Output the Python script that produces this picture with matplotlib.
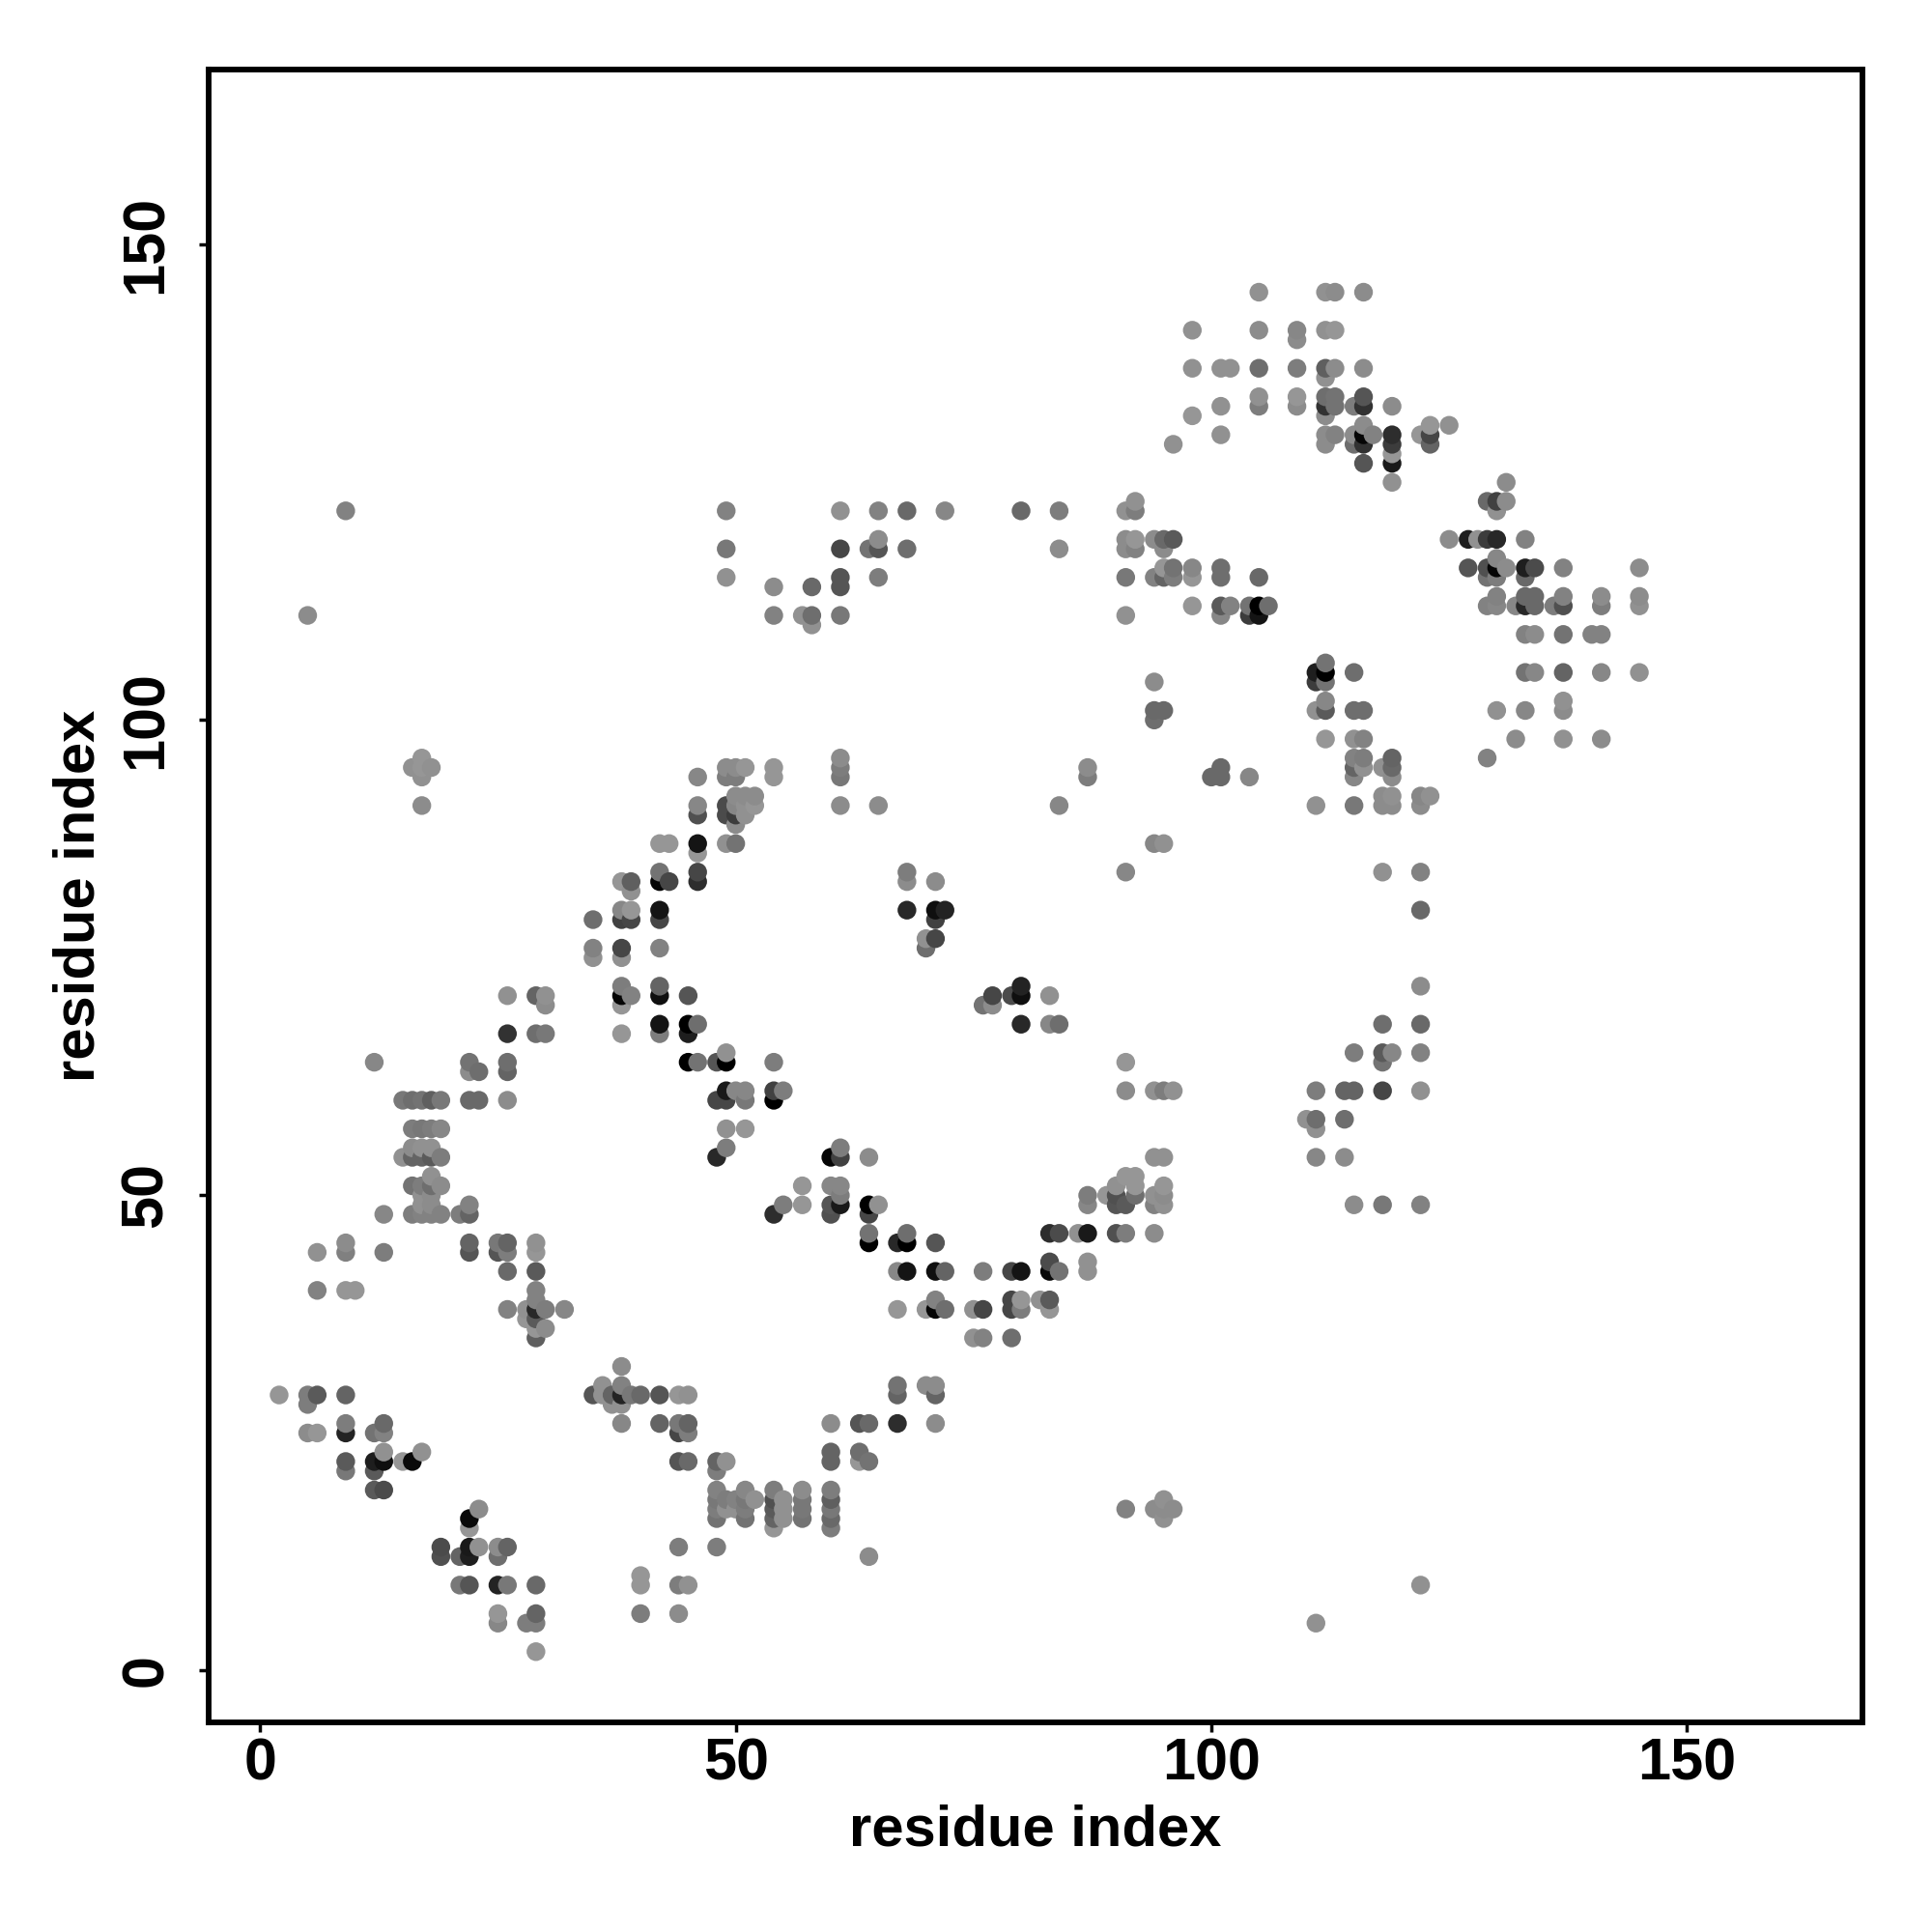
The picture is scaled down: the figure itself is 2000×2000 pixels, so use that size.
import numpy as np
import matplotlib
matplotlib.use("Agg")
import matplotlib.pyplot as plt

plt.rcParams['font.family'] = ['Liberation Sans', 'DejaVu Sans']

# (residue i, residue j, grey level)
contacts_bottom = [
(2,29,150),(5,29,125),(6,29,90),(9,29,100),(5,28,125),(9,26,125),(13,26,105),(5,25,140),(6,25,150),(9,25,35),
(12,25,115),(13,25,130),(13,23,145),(17,23,145),(9,22,90),(12,22,30),(13,22,15),(15,22,150),(16,22,10),
(9,21,120),(12,21,90),(12,19,90),(13,19,75),(23,17,140),(22,16,10),(22,15,150),
(19,13,75),(22,13,25),(23,13,145),(25,13,140),(26,13,100),(19,12,80),(21,12,100),(22,12,30),(25,12,110),
(21,9,120),(22,9,85),(25,9,35),(26,9,120),(29,9,105),(25,6,150),(29,6,100),(25,5,135),(28,5,125),(29,5,125),(29,2,150),
(40,10,150),(40,9,150),(44,13,125),(44,9,125),(45,9,145),(40,6,125),(44,6,140),
(38,32,140),(36,30,145),(38,30,130),(35,29,85),(36,29,145),(37,29,100),(38,29,35),(39,29,120),(40,29,105),
(42,29,85),(44,29,150),(45,29,145),(37,28,145),(38,28,145),(38,26,135),(42,26,100),(44,26,120),(45,26,100),
(44,25,70),(45,25,125),(44,22,85),(45,22,105),(48,22,100),(49,22,145),(60,22,100),(63,22,150),(64,22,115),
(48,21,125),(60,23,100),(63,23,110),(60,26,140),(63,26,85),(64,26,105),(67,26,45),(71,26,140),
(67,30,115),(70,30,140),(71,30,140),(67,29,100),(71,29,100),
(48,19,130),(51,19,135),(54,19,125),(57,19,140),(60,19,125),(48,18,120),(49,18,125),(50,18,130),(51,18,120),
(52,18,145),(54,18,80),(55,18,145),(57,18,120),(60,18,95),(48,17,125),(49,17,145),(50,17,145),(51,17,125),
(54,17,90),(55,17,145),(57,17,120),(60,17,120),(48,16,115),(51,16,115),(54,16,100),(55,16,145),(57,16,115),
(60,16,105),(54,15,150),(60,15,125),(48,13,125),(64,12,140),
(91,17,130),(94,17,140),(95,18,145),(95,17,140),(95,16,145),(96,17,140),(111,5,145),(122,9,145),
]

contacts_left = [
(13,48,135),(16,48,125),(17,48,130),(18,48,130),(19,48,130),(21,48,125),(22,48,100),(6,44,145),(9,45,140),(9,44,128),
(13,44,125),(22,45,100),(22,44,85),(25,45,120),(25,44,85),(26,45,100),(26,44,125),(29,45,145),(29,44,150),
(26,42,105),(29,42,90),(6,40,130),(9,40,150),(10,40,150),(29,40,130),(29,39,130),(26,38,130),(28,38,145),(29,38,40),
(30,38,125),(32,38,135),(28,37,150),(29,37,90),(29,36,150),(30,36,140),(29,35,95),
(17,96,150),(16,95,145),(17,95,150),(18,95,145),(17,94,145),(17,91,140),
(12,64,135),(22,64,115),(26,64,110),(22,63,140),(23,63,110),(26,63,100),
(15,60,120),(16,60,110),(17,60,115),(18,60,95),(19,60,120),(22,60,105),(23,60,105),(26,60,140),
(16,57,125),(17,57,120),(18,57,125),(19,57,135),(16,55,140),(17,55,145),(18,55,145),
(15,54,145),(16,54,100),(17,54,100),(18,54,90),(19,54,125),(18,52,145),(16,51,115),(17,51,125),(18,51,110),(19,51,140),
(17,50,145),(18,50,140),(17,49,145),(18,49,140),(22,49,130),
(26,71,145),(29,71,100),(30,71,145),(30,70,140),(26,67,50),(29,67,110),(30,67,120),
]

contacts_arc = [
(49,95,140),(50,95,140),(51,95,150),(54,95,150),(46,94,135),(49,94,125),(50,94,125),(54,94,150),(50,92,140),(51,92,140),(52,92,140),
(46,91,135),(49,91,75),(50,91,135),(51,91,145),(52,91,150),(46,90,80),(49,90,75),(50,90,60),(51,90,145),(50,89,140),
(42,87,150),(43,87,150),(46,87,20),(49,87,145),(50,87,115),(46,86,150),(42,84,115),(46,84,70),
(38,83,150),(39,83,95),(42,83,5),(43,83,70),(46,83,45),(39,82,145),(38,80,135),(39,80,150),(42,80,20),
(35,79,110),(38,79,65),(39,79,70),(42,79,70),(35,76,130),(38,76,70),(42,76,130),(35,75,145),(38,75,145),
(38,72,125),(42,72,100),(38,71,5),(39,71,130),(42,71,15),(45,71,85),(38,70,150),(42,68,20),(45,68,0),(46,68,110),
(38,67,150),(42,67,125),(45,67,30),(45,64,0),(46,64,115),(48,64,85),(49,64,0),(54,64,125),(49,65,145),
(49,61,25),(50,61,135),(51,61,135),(54,61,65),(55,61,125),(48,60,70),(49,60,70),(51,60,120),(54,60,0),
(49,57,145),(51,57,150),(49,55,125),(48,54,40),(60,54,5),(61,54,65),(64,54,140),(61,55,125),
(57,51,150),(60,51,135),(61,51,135),(61,50,125),(55,49,125),(57,49,150),(60,49,85),(61,49,25),(64,49,0),(65,49,145),
(54,48,45),(60,48,80),(64,48,70),(64,46,115),(68,46,110),(64,45,0),(67,45,40),(68,45,0),(71,45,85),
(67,42,135),(68,42,20),(71,42,15),(72,42,100),(76,42,125),(79,42,70),(80,42,20),(83,42,10),(84,42,115),(87,42,145),(87,43,145),
(71,39,130),(79,39,70),(80,39,150),(82,39,145),(83,39,90),(67,38,150),(70,38,150),(71,38,5),(72,38,110),(75,38,145),
(76,38,70),(79,38,70),(80,38,125),(83,38,150),(75,35,145),(76,35,130),(79,35,110),(83,43,75),
(83,46,45),(84,46,75),(86,46,145),(87,46,25),(90,46,80),(91,46,125),(94,46,140),
(91,52,150),(92,52,150),(90,51,145),(92,51,150),(95,51,150),(87,50,125),(89,50,150),(90,50,80),(92,50,110),(94,50,145),(95,50,140),
(87,49,135),(90,49,85),(91,49,90),(94,49,130),(95,49,145),
]

contacts_centre = [
(68,84,125),(68,83,140),(71,83,140),(68,80,40),(71,80,15),(72,80,35),(71,79,65),(70,77,145),(71,77,70),(70,76,110),
(80,72,35),(77,71,70),(79,71,75),(80,71,15),(83,71,145),(76,70,115),(77,70,140),(80,68,40),(83,68,135),(84,68,110),
(91,84,135),(94,87,135),(95,87,145),(91,64,150),(91,61,140),(94,61,145),(95,61,125),(96,61,145),
(94,54,145),(95,54,145),(84,91,135),(84,122,125),(87,95,140),(87,94,125),(61,96,140),(61,95,125),(61,94,120),(61,91,140),(65,91,140),
(9,122,130),(5,111,140),
(49,122,130),(61,122,145),(65,122,130),(68,122,105),(72,122,135),(80,122,105),(49,118,120),(61,118,70),(64,118,115),(65,118,85),
(65,119,140),(68,118,110),(84,118,140),(49,115,145),(61,115,85),(65,115,125),(54,114,140),(58,114,105),(61,114,85),
(54,111,130),(57,111,145),(58,111,110),(61,111,120),(58,110,145),
]

contacts_top = [
(105,145,145),(112,145,145),(113,145,140),(116,145,140),(98,141,145),(105,141,140),(109,141,135),(112,141,145),(113,141,150),(109,140,140),
(98,137,145),(101,137,145),(102,137,145),(105,137,110),(109,137,125),(112,137,95),(113,137,140),(116,137,140),(112,136,145),
(101,133,145),(105,134,145),(109,134,150),(112,134,110),(113,134,115),(116,134,85),(105,133,125),(109,133,140),(112,133,50),(113,133,115),(115,133,125),(116,133,50),(119,133,140),
(98,132,150),(112,132,140),(116,131,140),(123,131,150),(125,131,145),(101,130,145),(112,130,140),(113,130,130),(115,130,140),(116,130,5),(117,130,130),(119,130,45),(122,130,150),(123,130,70),
(96,129,145),(112,129,140),(115,129,110),(116,129,50),(119,129,60),(123,129,100),(119,128,150),(116,127,85),(119,127,25),(119,125,145),
(92,123,145),(91,122,145),(92,122,125),(91,119,140),(92,119,150),(94,119,140),(95,119,105),(96,119,90),(91,118,140),(92,118,130),(95,118,140),
(95,116,150),(96,116,115),(98,116,135),(101,116,110),(91,115,120),(94,115,130),(95,115,100),(96,115,125),(98,115,150),(101,115,110),(105,115,105),
(98,112,150),(101,112,90),(102,112,130),(104,112,115),(105,112,0),(106,112,110),(91,111,145),(101,111,135),(104,111,60),(105,111,20),
]

contacts_right = [
(131,125,140),(129,123,105),(130,123,65),(131,123,140),(130,122,145),(125,119,140),(127,119,30),(128,119,145),(129,119,60),(130,119,40),(133,119,130),
(130,117,135),(127,116,85),(129,116,80),(130,116,5),(131,116,140),(133,116,30),(134,116,75),(137,116,130),(145,116,140),(129,115,115),(130,115,125),(133,115,105),
(130,113,130),(133,113,105),(134,113,105),(137,113,130),(141,113,140),(145,113,140),(129,112,130),(130,112,135),(132,112,135),(133,112,40),(134,112,105),(136,112,125),(137,112,80),(141,112,125),(145,112,145),
(133,109,130),(134,109,140),(137,109,115),(140,109,130),(141,109,130),(133,105,115),(134,105,135),(137,105,100),(141,105,135),(145,105,145),
(137,102,145),(130,101,145),(133,101,135),(137,101,140),(132,98,140),(137,98,145),(141,98,140),(129,96,130),
(94,104,140),(94,101,105),(95,101,105),(94,100,110),(101,95,105),(100,94,105),(101,94,105),(104,94,135),
(111,105,30),(112,106,115),(112,105,0),(111,104,60),(112,104,115),(115,105,110),(111,101,145),(112,102,135),(112,101,90),(115,101,110),(116,101,110),
(112,98,150),(115,98,145),(116,98,130),(115,96,130),(116,96,125),(119,96,100),(115,95,100),(116,95,145),(118,95,145),(119,95,105),(115,94,135),(119,94,140),
(111,91,145),(115,91,120),(118,92,140),(119,92,145),(118,91,140),(119,91,140),(122,92,135),(123,92,145),(122,91,140),
(118,84,145),(122,84,130),(122,80,105),(122,72,140),(118,68,110),(122,68,105),(115,65,125),(118,65,90),(119,65,135),(122,65,130),(118,64,115),
(111,61,125),(114,61,100),(115,61,100),(118,61,70),(122,61,145),(110,58,145),(111,58,110),(114,58,110),(111,57,145),(111,54,135),(114,54,140),
(115,49,140),(118,49,120),(122,49,130),
]

tick_values = [0, 50, 100, 150]
axis_label = "residue index"

rows = np.array(contacts_bottom + contacts_left + contacts_arc + contacts_centre + contacts_top + contacts_right, dtype=float)
order = np.lexsort((rows[:, 1], rows[:, 0]))
rows = rows[order]

W = 2000.0
top_px, bottom_px, left_px, right_px = 72.2, 1783.2, 215.7, 1927.5
fig = plt.figure(figsize=(20, 20), dpi=100, facecolor='white')
ax = fig.add_axes([left_px / W, (W - bottom_px) / W, (right_px - left_px) / W, (bottom_px - top_px) / W])

ax.scatter(rows[:, 0], rows[:, 1], s=195, c=[str(g / 255) for g in rows[:, 2]], linewidths=0, clip_on=True)

ax.set_xlim(-5.44, 168.4)
ax.set_ylim(-5.46, 168.4)
ax.set_xticks(tick_values)
ax.set_yticks(tick_values)
for s in ax.spines.values():
    s.set_linewidth(4.2)
ax.tick_params(length=7, width=2.5, color='black', labelsize=44)
ax.tick_params(axis='x', pad=4)
ax.tick_params(axis='y', pad=18)
for t in ax.get_xticklabels():
    t.set_fontweight('bold')
for t in ax.get_yticklabels():
    t.set_fontweight('bold')
    t.set_rotation(90)
    t.set_va('center')
ax.set_xlabel(axis_label, fontsize=43, fontweight='bold')
ax.set_ylabel(axis_label, fontsize=43, fontweight='bold')
ax.xaxis.set_label_coords((1071.5 - left_px) / (right_px - left_px), -(1895 - bottom_px) / (bottom_px - top_px), transform=ax.transAxes)
ax.xaxis.label.set_va('center')
ax.yaxis.set_label_coords(-(left_px - 82) / (right_px - left_px), (bottom_px - 927) / (bottom_px - top_px), transform=ax.transAxes)
ax.yaxis.label.set_va('center')

fig.savefig("out.png", dpi=100, facecolor='white')
